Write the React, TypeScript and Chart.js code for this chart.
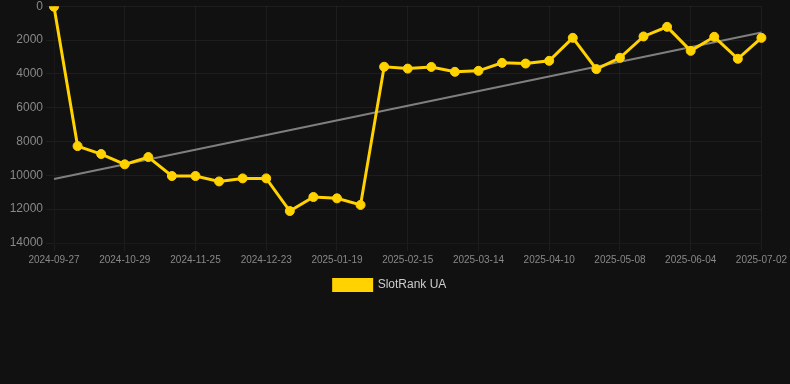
import React, { useEffect, useRef } from "react";
import { Chart, registerables } from "chart.js";

Chart.register(...registerables);

const labels = [
  "2024-09-27", "2024-10-08", "2024-10-18", "2024-10-29", "2024-11-07", "2024-11-16",
  "2024-11-25", "2024-12-04", "2024-12-13", "2024-12-23", "2025-01-01", "2025-01-10",
  "2025-01-19", "2025-01-28", "2025-02-06", "2025-02-15", "2025-02-24", "2025-03-05",
  "2025-03-14", "2025-03-23", "2025-04-01", "2025-04-10", "2025-04-19", "2025-04-29",
  "2025-05-08", "2025-05-17", "2025-05-26", "2025-06-04", "2025-06-13", "2025-06-23",
  "2025-07-02",
];

const rankValues = [
  30, 8270, 8740, 9350, 8920, 10040, 10040, 10360, 10180, 10180, 12110, 11280,
  11360, 11750, 3580, 3690, 3590, 3880, 3820, 3350, 3390, 3230, 1870, 3720,
  3050, 1790, 1220, 2640, 1810, 3110, 1870,
];

const trendStart = 10220;
const trendEnd = 1560;

const yTicks = [0, 2000, 4000, 6000, 8000, 10000, 12000, 14000];

export default function App() {
  const ref = useRef<HTMLCanvasElement | null>(null);

  useEffect(() => {
    document.body.style.margin = "0";
    document.body.style.background = "#111111";
    const trend = labels.map((_, i) =>
      i === 0 ? trendStart : i === labels.length - 1 ? trendEnd : null
    );
    const chart = new Chart(ref.current!, {
      type: "line",
      data: {
        labels,
        datasets: [
          {
            label: "SlotRank UA",
            data: rankValues,
            borderColor: "#FFD200",
            backgroundColor: "#FFD200",
            borderWidth: 3,
            pointRadius: 4.5,
            pointBorderWidth: 1,
            pointBackgroundColor: "#FFD200",
            pointBorderColor: "#FFD200",
            tension: 0,
          },
          {
            label: "trend",
            data: trend,
            borderColor: "rgba(140,140,140,0.9)",
            backgroundColor: "rgba(140,140,140,0.9)",
            borderWidth: 2,
            pointRadius: 0,
            spanGaps: true,
          },
        ],
      },
      options: {
        animation: false,
        responsive: true,
        maintainAspectRatio: false,
        layout: { padding: { left: -6, right: 4, top: 0 } },
        plugins: {
          legend: {
            position: "bottom",
            labels: {
              color: "#cccccc",
              font: { family: "Arial", size: 12 },
              boxWidth: 38,
              boxHeight: 11,
              padding: 10,
              filter: (item) => item.text !== "trend",
            },
          },
          tooltip: { enabled: false },
        },
        scales: {
          x: {
            grid: {
              color: (ctx) =>
                ctx.index % 3 === 0 ? "rgba(255,255,255,0.05)" : "rgba(0,0,0,0)",
            },
            ticks: {
              color: "#888888",
              font: { family: "Arial", size: 10 },
              maxRotation: 0,
              autoSkip: false,
              callback: (_v, i) => (i % 3 === 0 ? labels[i] : ""),
            },
          },
          y: {
            reverse: true,
            min: 0,
            max: 14000,
            grid: { color: "rgba(255,255,255,0.05)" },
            afterBuildTicks: (axis) => {
              axis.ticks = yTicks.map((v) => ({ value: v }));
            },
            afterFit: (axis) => {
              axis.width = 60;
            },
            ticks: {
              color: "#888888",
              font: { family: "Arial", size: 12 },
              callback: (v) => String(v),
            },
          },
        },
      },
    });
    return () => chart.destroy();
  }, []);

  return (
    <div style={{ width: 790, height: 384, background: "#111111", overflow: "hidden" }}>
      <div style={{ width: 790, height: 305, position: "relative", marginTop: -4 }}>
        <canvas ref={ref} />
      </div>
    </div>
  );
}
